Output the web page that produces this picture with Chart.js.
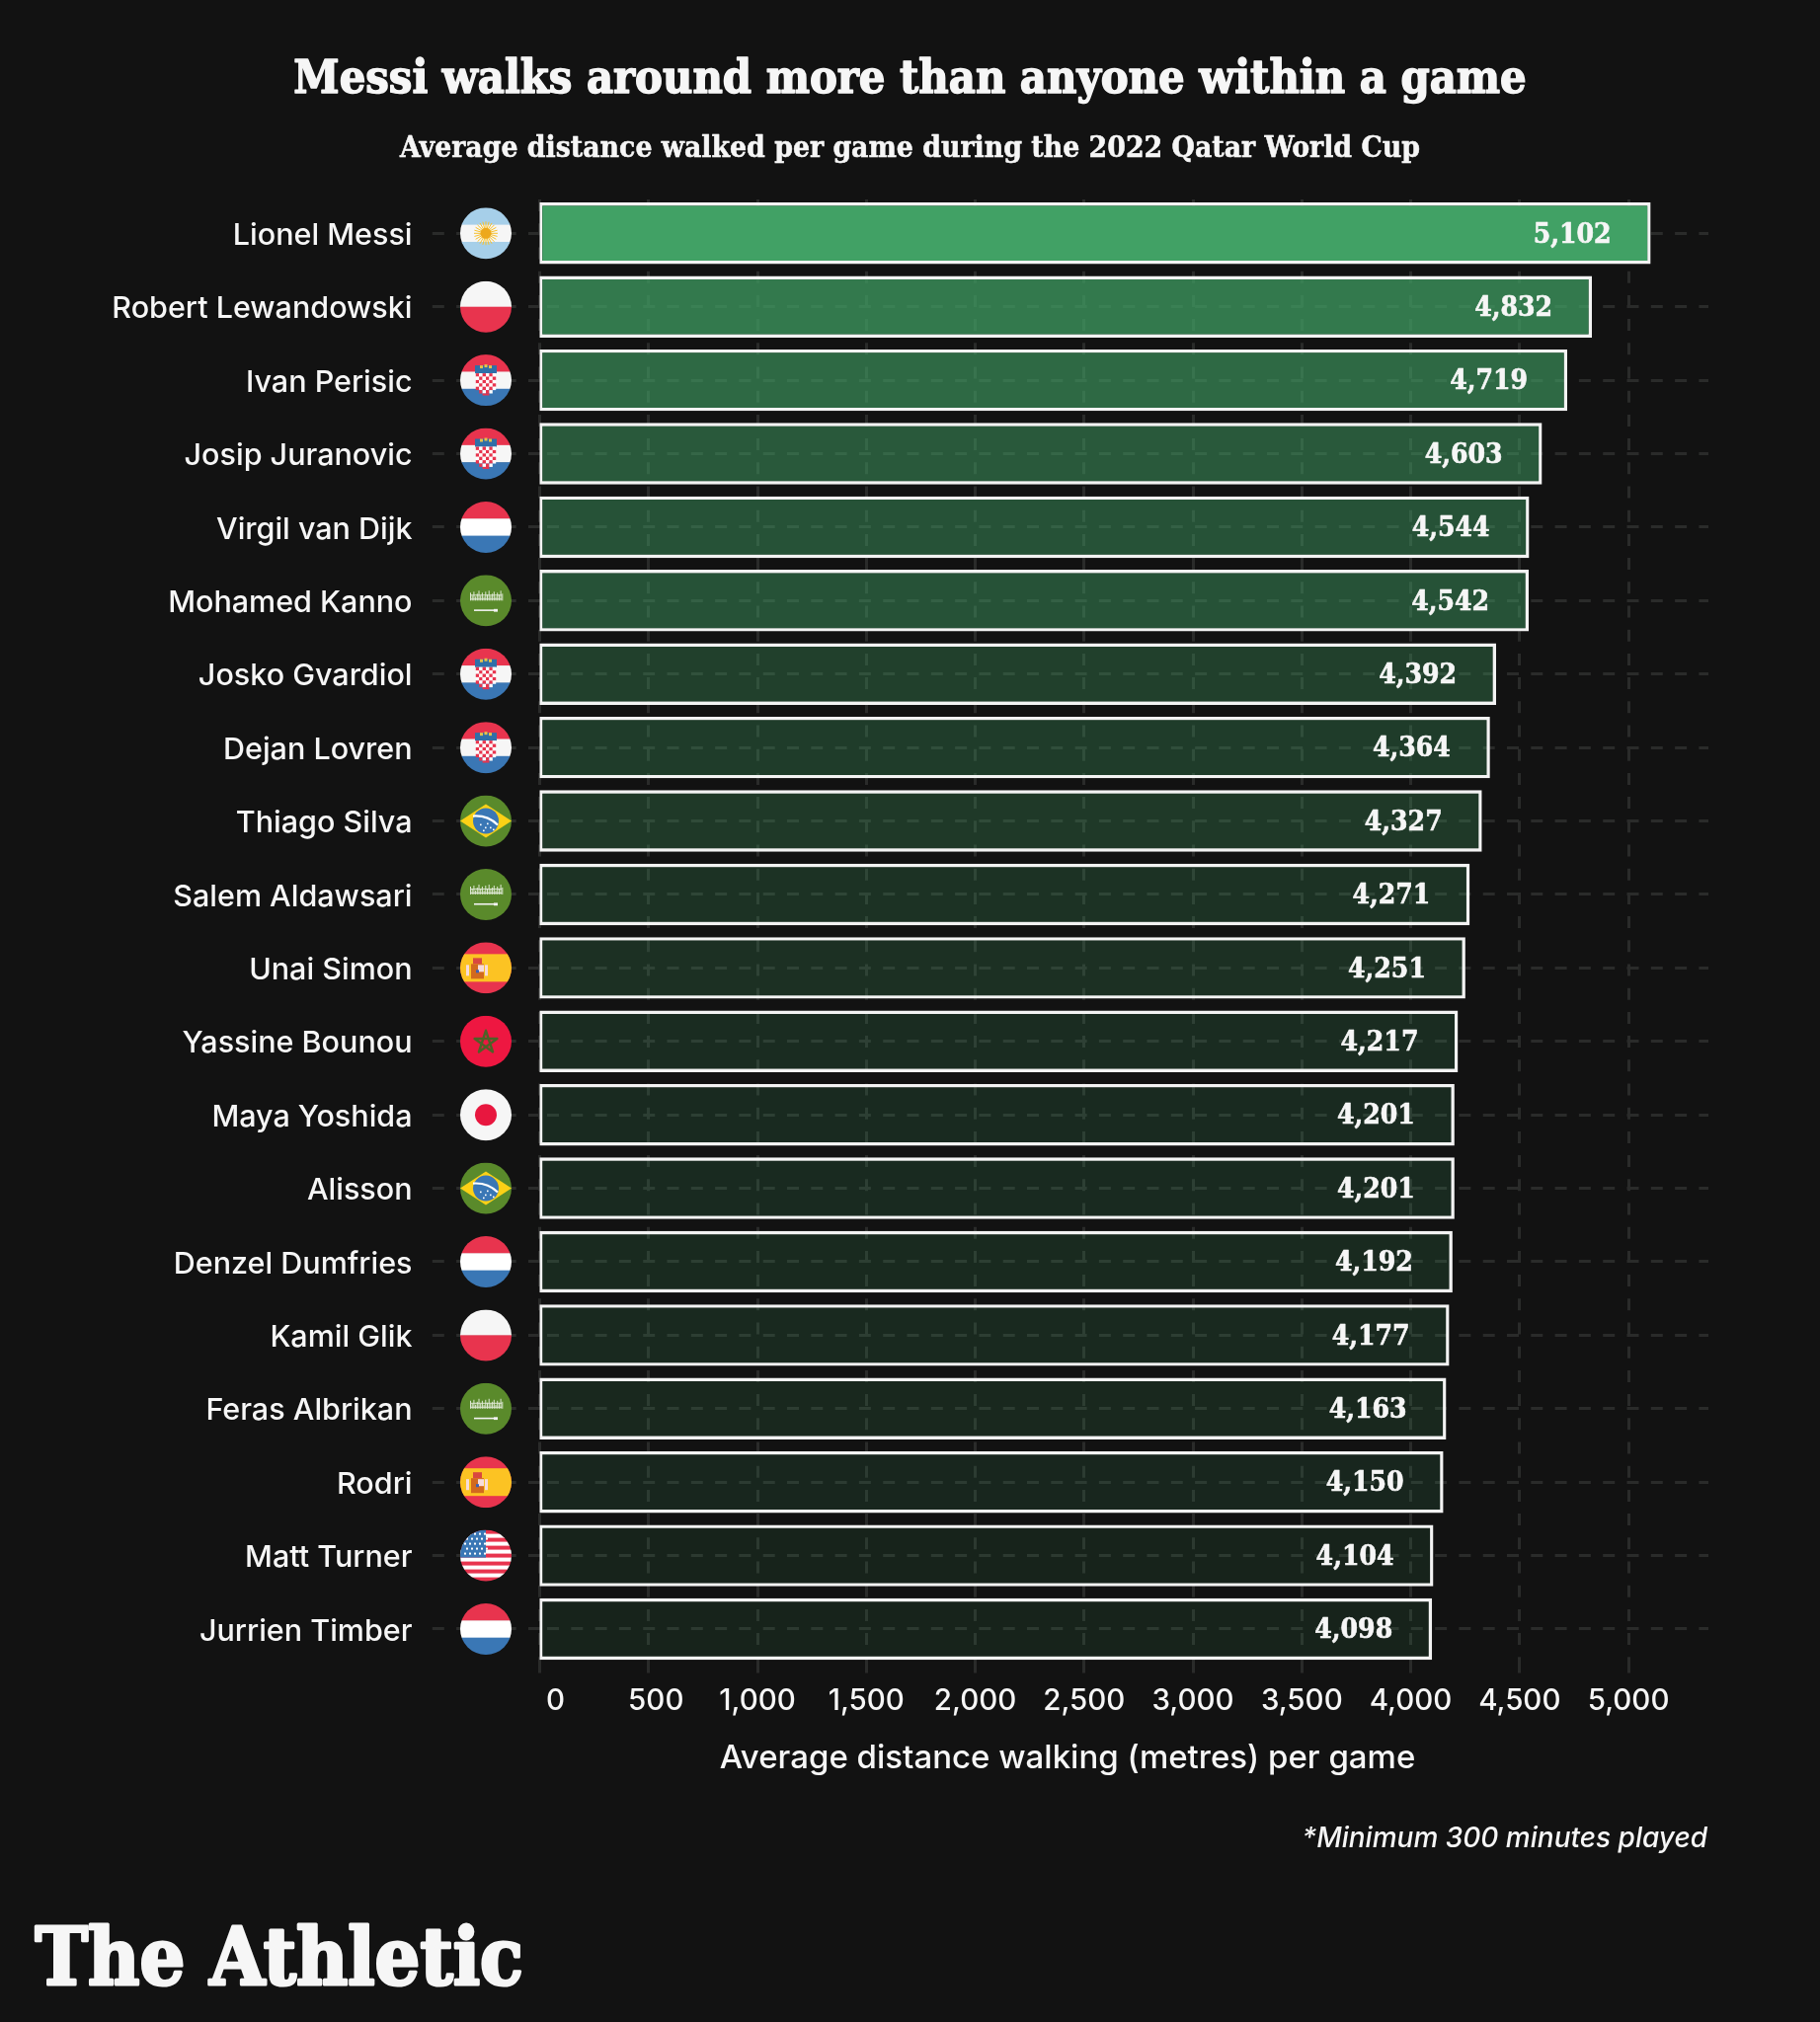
<!DOCTYPE html>
<html>
<head>
<meta charset="utf-8">
<title>Messi walks around more than anyone within a game</title>
<script src="https://cdn.jsdelivr.net/npm/chart.js@4"></script>
<style>
html, body { margin: 0; padding: 0; background: #121212; }
#wrap { width: 1843px; height: 2048px; }
canvas { display: block; }
</style>
</head>
<body>
<div id="wrap"><canvas id="chart" width="1843" height="2048"></canvas></div>
<script>
const players = ["Lionel Messi", "Robert Lewandowski", "Ivan Perisic", "Josip Juranovic", "Virgil van Dijk",
    "Mohamed Kanno", "Josko Gvardiol", "Dejan Lovren", "Thiago Silva", "Salem Aldawsari", "Unai Simon",
    "Yassine Bounou", "Maya Yoshida", "Alisson", "Denzel Dumfries", "Kamil Glik", "Feras Albrikan",
    "Rodri", "Matt Turner", "Jurrien Timber"];
const distances = [5102, 4832, 4719, 4603, 4544, 4542, 4392, 4364, 4327, 4271, 4251, 4217, 4201, 4201,
    4192, 4177, 4163, 4150, 4104, 4098];
const countries = ["arg", "pol", "cro", "cro", "ned", "ksa", "cro", "cro", "bra", "ksa", "esp", "mar", "jpn",
    "bra", "ned", "pol", "ksa", "esp", "usa", "ned"];

const titleText = "Messi walks around more than anyone within a game";
const subtitleText = "Average distance walked per game during the 2022 Qatar World Cup";
const axisTitle = "Average distance walking (metres) per game";
const footnote = "*Minimum 300 minutes played";
const logoText = "The Athletic";

const sansFont = "Inter, 'Noto Sans', sans-serif";
const slabFont = "'DejaVu Serif Condensed', 'DejaVu Serif', serif";
const textColor = "#f6f6f6";
const gridColor = "#2a2b2a";

// brighter green for the longer distances
function barColor(v) {
    let t = (v - 4098) / (5102 - 4098);
    let alpha = 0.12 + 0.88 * Math.pow(t, 1.2);
    return "rgba(65,161,101," + alpha.toFixed(3) + ")";
}

function stripes(ctx, x, y, r, colors) {
    let h = 2 * r / colors.length;
    colors.forEach((c, i) => {
        ctx.fillStyle = c;
        ctx.fillRect(x - r, y - r + i * h, 2 * r, h + 0.5);
    });
}

function star(ctx, x, y, r, color, stroke) {
    ctx.beginPath();
    for (let i = 0; i < 5; i++) {
        let a = -Math.PI / 2 + i * 4 * Math.PI / 5;
        ctx.lineTo(x + r * Math.cos(a), y + r * Math.sin(a));
    }
    ctx.closePath();
    ctx.strokeStyle = color;
    ctx.lineWidth = stroke;
    ctx.stroke();
}

function heavyText(ctx, text, x, y, weight) {
    ctx.strokeStyle = ctx.fillStyle;
    ctx.lineWidth = weight;
    ctx.lineJoin = "round";
    ctx.strokeText(text, x, y);
    ctx.fillText(text, x, y);
}

const red = "#e8344e";
const white = "#f6f6f6";
const blue = "#3a77b5";

const flagDrawers = {
    arg(ctx, x, y, r) {
        stripes(ctx, x, y, r, ["#a6cfe9", white, "#a6cfe9"]);
        ctx.strokeStyle = "#f7c02b";
        ctx.lineWidth = 1;
        for (let i = 0; i < 24; i++) {
            let a = i * Math.PI / 12;
            ctx.beginPath();
            ctx.moveTo(x, y);
            ctx.lineTo(x + 12 * Math.cos(a), y + 12 * Math.sin(a));
            ctx.stroke();
        }
        ctx.fillStyle = "#eda81c";
        ctx.beginPath();
        ctx.arc(x, y, 5.5, 0, 2 * Math.PI);
        ctx.fill();
    },
    pol(ctx, x, y, r) {
        stripes(ctx, x, y, r, [white, red]);
    },
    ned(ctx, x, y, r) {
        stripes(ctx, x, y, r, [red, "#ffffff", blue]);
    },
    cro(ctx, x, y, r) {
        stripes(ctx, x, y, r, [red, white, blue]);
        // crown
        ctx.fillStyle = "#2f6fa8";
        ctx.fillRect(x - 11, y - 15, 22, 8);
        ctx.fillStyle = "#e7c24a";
        ctx.fillRect(x - 6, y - 15, 3, 3);
        ctx.fillRect(x + 3, y - 15, 3, 3);
        ctx.fillRect(x - 1.5, y - 16, 3, 3);
        // shield
        let s = 3.4;
        let top = y - 7;
        for (let row = 0; row < 6; row++) {
            for (let col = 0; col < 6; col++) {
                if (row === 5 && (col === 0 || col === 5)) continue;
                ctx.fillStyle = (row + col) % 2 === 0 ? "#e8344e" : "#ffffff";
                ctx.fillRect(x - 3 * s + col * s, top + row * s, s, s);
            }
        }
        ctx.fillStyle = "#e8344e";
        ctx.fillRect(x - s, top + 6 * s, 2 * s, 2);
    },
    ksa(ctx, x, y, r) {
        stripes(ctx, x, y, r, ["#5a8a2b"]);
        // script band made of short strokes
        ctx.fillStyle = "#dfe8d4";
        let heights = [8, 5, 9, 4, 7, 10, 5, 8, 4, 9, 6, 10, 5, 7, 9, 4, 8, 6, 10, 7];
        heights.forEach((h, i) => ctx.fillRect(x - 16 + i * 1.7, y - h, 1, h));
        ctx.fillRect(x - 15, y - 6, 31, 1);
        ctx.fillRect(x - 15, y - 2, 31, 1);
        // sword
        ctx.fillStyle = "#f2f2f2";
        ctx.fillRect(x - 12, y + 9, 20, 1.6);
        ctx.fillRect(x + 8, y + 8.5, 4, 2.8);
    },
    bra(ctx, x, y, r) {
        stripes(ctx, x, y, r, ["#5a8a2b"]);
        ctx.fillStyle = "#fcd116";
        ctx.beginPath();
        ctx.moveTo(x - r, y);
        ctx.lineTo(x, y - 17);
        ctx.lineTo(x + r, y);
        ctx.lineTo(x, y + 17);
        ctx.closePath();
        ctx.fill();
        ctx.fillStyle = blue;
        ctx.beginPath();
        ctx.arc(x, y, 13, 0, 2 * Math.PI);
        ctx.fill();
        ctx.strokeStyle = "#ffffff";
        ctx.lineWidth = 2.2;
        ctx.beginPath();
        ctx.moveTo(x - 13, y - 5);
        ctx.quadraticCurveTo(x + 2, y - 6, x + 12, y + 4);
        ctx.stroke();
        ctx.fillStyle = "#ffffff";
        [[-6, 3], [-1, 6], [4, 6], [-3, 9], [7, 8], [1, 2]].forEach(p => ctx.fillRect(x + p[0], y + p[1], 1.6, 1.6));
    },
    esp(ctx, x, y, r) {
        ctx.fillStyle = red;
        ctx.fillRect(x - r, y - r, 2 * r, 2 * r);
        ctx.fillStyle = "#fcc323";
        ctx.fillRect(x - r, y - 14, 2 * r, 28);
        // coat of arms
        ctx.fillStyle = "#d2691e";
        ctx.fillRect(x - 15, y - 4, 13, 15);
        ctx.fillStyle = "#d9483f";
        ctx.fillRect(x - 13, y - 10, 9, 6);
        ctx.fillStyle = "#f7dcdc";
        ctx.fillRect(x - 8, y - 3, 6, 7);
        ctx.fillRect(x - 20, y - 3, 3, 11);
        ctx.fillRect(x - 1, y - 3, 3, 11);
        ctx.fillStyle = "#3a5fb5";
        ctx.fillRect(x - 10, y + 2, 3, 3);
    },
    mar(ctx, x, y, r) {
        stripes(ctx, x, y, r, ["#ee1741"]);
        star(ctx, x, y + 1, 12, "#4d6127", 2.4);
    },
    jpn(ctx, x, y, r) {
        stripes(ctx, x, y, r, [white]);
        ctx.fillStyle = "#e8173f";
        ctx.beginPath();
        ctx.arc(x, y, 11, 0, 2 * Math.PI);
        ctx.fill();
    },
    usa(ctx, x, y, r) {
        let bands = [];
        for (let i = 0; i < 13; i++) bands.push(i % 2 === 0 ? red : "#ffffff");
        stripes(ctx, x, y, r, bands);
        ctx.fillStyle = blue;
        ctx.fillRect(x - r, y - r, r, 2 * r * 7 / 13);
        ctx.fillStyle = "#ffffff";
        for (let row = 0; row < 5; row++) {
            for (let col = 0; col < 5; col++) {
                ctx.fillRect(x - r + 4 + col * 5 + (row % 2) * 2, y - r + 3 + row * 5, 2, 2);
            }
        }
    }
};

const extrasPlugin = {
    id: "extras",
    beforeDraw(chart) {
        let ctx = chart.ctx;
        ctx.save();
        ctx.fillStyle = "#121212";
        ctx.fillRect(0, 0, chart.width, chart.height);
        ctx.restore();
        // the first two tick labels sit to the right of their ticks
        let items = chart.scales.x.getLabelItems();
        if (!items.moved) {
            items[0].options.translation[0] += 16;
            items[1].options.translation[0] += 7.5;
            items.moved = true;
        }
        let names = chart.scales.y.getLabelItems();
        if (!names.moved) {
            names.forEach(n => n.options.translation[1] += 2.5);
            names.moved = true;
        }
    },
    afterDatasetsDraw(chart) {
        let ctx = chart.ctx;
        let x = chart.scales.x;
        let y = chart.scales.y;
        ctx.save();

        ctx.fillStyle = textColor;
        ctx.textBaseline = "middle";

        // title block
        ctx.textAlign = "center";
        ctx.font = "bold 46.5px " + slabFont;
        heavyText(ctx, titleText, 921.5, 81.5, 1.4);
        ctx.font = "bold 29.8px " + slabFont;
        heavyText(ctx, subtitleText, 921.5, 151, 0.5);

        // value labels
        ctx.textAlign = "right";
        ctx.font = "bold 28px " + slabFont;
        distances.forEach((d, i) => {
            heavyText(ctx, d.toLocaleString("en-US"), x.getPixelForValue(d) - 40, y.getPixelForValue(i) + 2, 0.6);
        });

        // flags
        let flagX = chart.chartArea.left - 54.5;
        countries.forEach((c, i) => {
            let cy = y.getPixelForValue(i);
            ctx.save();
            ctx.beginPath();
            ctx.arc(flagX, cy, 26, 0, 2 * Math.PI);
            ctx.clip();
            flagDrawers[c](ctx, flagX, cy, 26);
            ctx.restore();
        });

        // axis title, footnote, logo
        ctx.fillStyle = textColor;
        ctx.textBaseline = "middle";
        ctx.textAlign = "center";
        ctx.font = "500 33px " + sansFont;
        ctx.fillText(axisTitle, 1081, 1781);

        ctx.textAlign = "right";
        ctx.font = "italic 500 28px " + sansFont;
        ctx.fillText(footnote, 1729, 1863);

        ctx.textAlign = "left";
        ctx.font = "bold 80px " + slabFont;
        heavyText(ctx, logoText, 35.5, 1989, 3);
        ctx.restore();
    }
};

new Chart(document.getElementById("chart"), {
    type: "bar",
    plugins: [extrasPlugin],
    data: {
        labels: players,
        datasets: [{
            data: distances,
            backgroundColor: distances.map(barColor),
            borderColor: "#f3f3f3",
            borderWidth: 3.4,
            borderSkipped: false,
            inflateAmount: 0,
            base: -3,
            barPercentage: 0.839,
            categoryPercentage: 1
        }]
    },
    options: {
        indexAxis: "y",
        responsive: false,
        animation: false,
        layout: { padding: { left: 0, right: 113, top: 199.1, bottom: 0 } },
        plugins: {
            legend: { display: false },
            tooltip: { enabled: false }
        },
        scales: {
            x: {
                type: "linear",
                bounds: "data",
                beginAtZero: true,
                max: 5367,
                border: { display: false, dash: [12, 12.2], dashOffset: -3 },
                grid: {
                    color: gridColor,
                    lineWidth: 3,
                    tickLength: 8,
                    tickColor: gridColor,
                    tickWidth: 3,
                    tickBorderDash: [12, 12.2],
                    tickBorderDashOffset: 4.5
                },
                ticks: {
                    stepSize: 500,
                    autoSkip: false,
                    maxRotation: 0,
                    color: textColor,
                    padding: 10,
                    font: { family: sansFont, size: 29.5, weight: "500" },
                    callback: v => v.toLocaleString("en-US")
                },
                // the axis runs on past 5,000 with no tick at its end
                afterBuildTicks(scale) {
                    scale.ticks = scale.ticks.filter(t => t.value % 500 === 0);
                },
                afterFit(scale) { scale.height = 2048 - 1687.2; }
            },
            y: {
                type: "category",
                border: { display: false, dash: [12, 12.3], dashOffset: -7 },
                grid: {
                    offset: false,
                    color: gridColor,
                    lineWidth: 3,
                    tickLength: 114,
                    tickColor: gridColor,
                    tickWidth: 3,
                    tickBorderDash: [12, 12.3],
                    tickBorderDashOffset: -5.3
                },
                ticks: {
                    autoSkip: false,
                    color: textColor,
                    padding: 15,
                    font: { family: sansFont, size: 30.5, weight: "500" }
                },
                afterFit(scale) { scale.width = 546.5; }
            }
        }
    }
});
</script>
</body>
</html>
